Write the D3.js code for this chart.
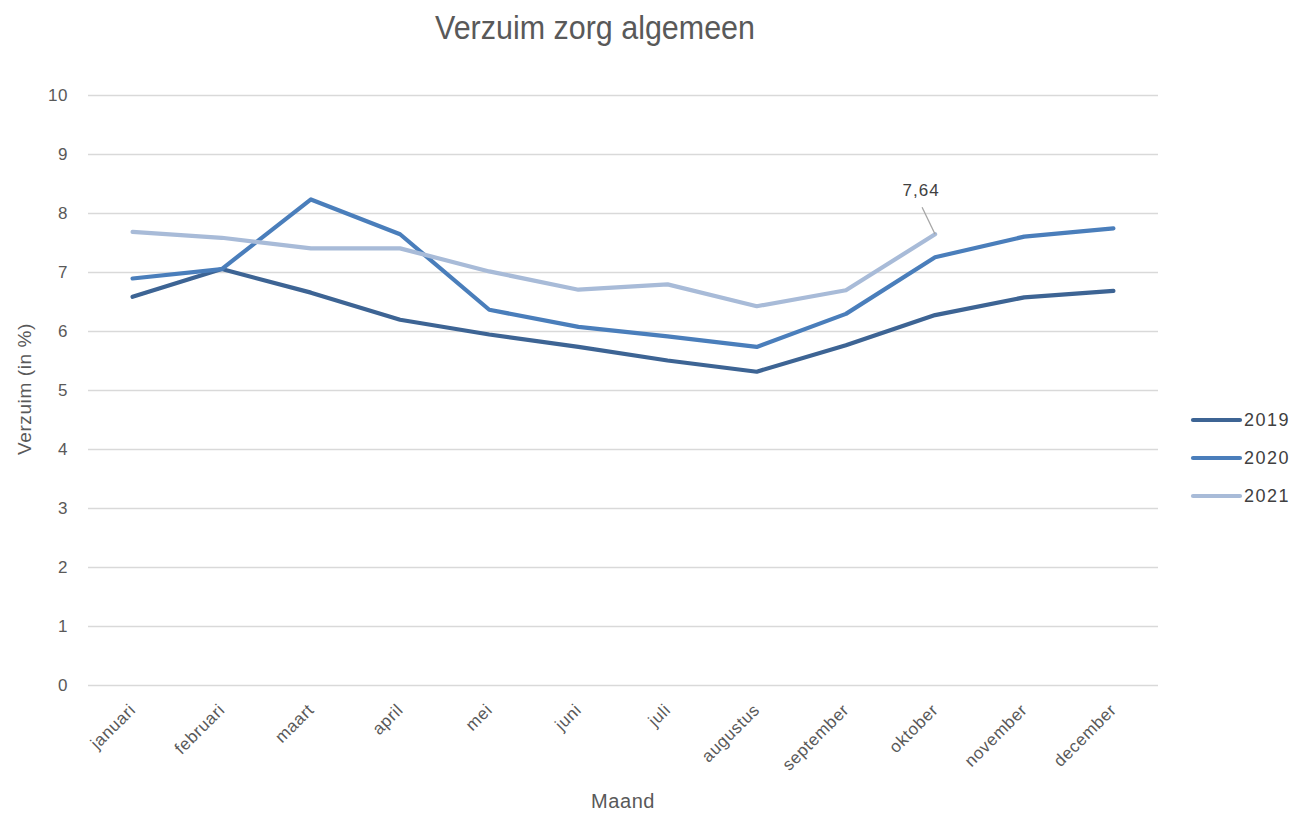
<!DOCTYPE html>
<html><head><meta charset="utf-8">
<script src="https://cdn.jsdelivr.net/npm/d3@7"></script>
<style>body{margin:0;background:#fff;}svg{display:block;}</style>
</head><body>
<svg id="c" width="1295" height="813"></svg>
<script>
const months = ["januari","februari","maart","april","mei","juni","juli","augustus","september","oktober","november","december"];
const years = ["2019","2020","2021"];
const v2019 = [6.58,7.05,6.65,6.19,5.94,5.73,5.50,5.31,5.76,6.27,6.57,6.68];
const v2020 = [6.89,7.05,8.23,7.64,6.36,6.07,5.91,5.73,6.29,7.25,7.60,7.74];
const v2021 = [7.68,7.58,7.40,7.40,7.01,6.70,6.79,6.42,6.69,7.64];
const yTicks = [0,1,2,3,4,5,6,7,8,9,10];
const colors = ["#3d6494","#4a7ebb","#a8bbd8"];
const series = [v2019, v2020, v2021];

const svg = d3.select("#c");
const pLeft = 88, pRight = 1158, pTop = 95, pBottom = 685;
const x = d3.scaleBand().domain(months).range([pLeft, pRight]);
const y = d3.scaleLinear().domain([0,10]).range([pBottom, pTop]);
const cx = m => x(m) + x.bandwidth()/2;
const FONT = "Liberation Sans, Arial, sans-serif";

svg.append("text").attr("x",595).attr("y",39).attr("text-anchor","middle")
  .attr("font-family",FONT).attr("font-size",33)
  .attr("textLength",320).attr("lengthAdjust","spacingAndGlyphs")
  .attr("fill","#595959").text("Verzuim zorg algemeen");

// grid
const yAxis = d3.axisLeft(y).tickValues(yTicks).tickSize(-(pRight-pLeft)).tickFormat(d3.format("d"));
const gy = svg.append("g").attr("transform",`translate(${pLeft},0)`).call(yAxis);
gy.select(".domain").remove();
gy.selectAll(".tick line").attr("stroke","#d9d9d9").attr("stroke-width",1.3);
gy.selectAll(".tick text").attr("x",-20).attr("fill","#595959")
  .attr("font-family",FONT).attr("font-size",17).attr("letter-spacing",0.5);

const xAxis = d3.axisBottom(x).tickSize(0);
const gx = svg.append("g").attr("transform",`translate(0,${pBottom})`).call(xAxis);
gx.select(".domain").remove();
gx.selectAll(".tick text").attr("fill","#595959")
  .attr("font-family",FONT).attr("font-size",17).attr("letter-spacing",0.6)
  .attr("text-anchor","end").attr("dy",0).attr("y",0)
  .attr("transform","translate(4,26) rotate(-45)");

svg.append("text").attr("transform","translate(31,389) rotate(-90)").attr("text-anchor","middle")
  .attr("font-family",FONT).attr("font-size",19).attr("letter-spacing",0.6)
  .attr("fill","#595959").text("Verzuim (in %)");
svg.append("text").attr("x",623).attr("y",808).attr("text-anchor","middle")
  .attr("font-family",FONT).attr("font-size",20).attr("letter-spacing",0.6)
  .attr("fill","#595959").text("Maand");

const line = d3.line().x((d,i)=>cx(months[i])).y(d=>y(d));
series.forEach((s,i)=>{
  svg.append("path").datum(s).attr("d",line).attr("fill","none")
    .attr("stroke",colors[i]).attr("stroke-width",4.2)
    .attr("stroke-linecap","round").attr("stroke-linejoin","round");
});

// annotation
const ax = cx(months[9]), ay = y(v2021[9]);
svg.append("line").attr("x1",ax).attr("y1",ay).attr("x2",ax-13).attr("y2",ay-27)
  .attr("stroke","#a6a6a6").attr("stroke-width",1.3);
svg.append("text").attr("x",ax-14).attr("y",ay-38).attr("text-anchor","middle")
  .attr("font-family",FONT).attr("font-size",17).attr("letter-spacing",1).attr("fill","#404040")
  .text(d3.format(".2f")(v2021[9]).replace(".",","));

// legend
const lg = svg.append("g");
years.forEach((yr,i)=>{
  const ly = 420 + i*38;
  lg.append("line").attr("x1",1193).attr("x2",1240).attr("y1",ly).attr("y2",ly)
    .attr("stroke",colors[i]).attr("stroke-width",4.2).attr("stroke-linecap","round");
  lg.append("text").attr("x",1244).attr("y",ly+6).attr("font-family",FONT)
    .attr("font-size",18).attr("letter-spacing",1.5).attr("fill","#404040").text(yr);
});
</script>
</body></html>
